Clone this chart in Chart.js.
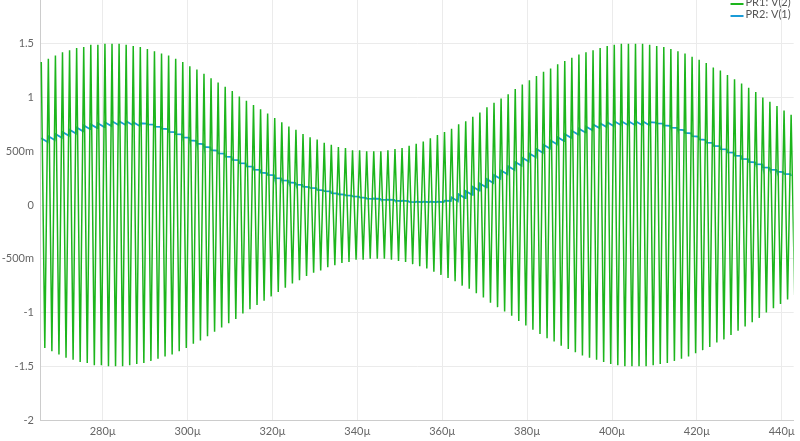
<!DOCTYPE html>
<html><head><meta charset="utf-8">
<script src="https://cdn.jsdelivr.net/npm/chart.js@4.4.1/dist/chart.umd.min.js"></script>
<style>html,body{margin:0;padding:0;overflow:hidden;background:#fff}#w{position:absolute;left:-12px;top:-30px;width:812px;height:490px}</style>
</head><body><div id="w"><canvas id="c"></canvas></div>
<script>
// carrier start time and period (µs)
const carrierStart = 265.5;
const carrierPeriod = 1.667;
// PR1: V(2) envelope peak per carrier cycle
const envelopePeaks = [1.33,1.36,1.39,1.42,1.44,1.46,1.47,1.49,1.49,1.50,1.50,1.50,1.49,1.48,1.47,1.45,1.43,1.41,1.39,1.36,
1.33,1.29,1.26,1.22,1.18,1.14,1.10,1.06,1.01,0.97,0.93,0.89,0.85,0.81,0.77,0.73,0.70,0.66,0.63,0.61,
0.58,0.56,0.54,0.53,0.51,0.51,0.50,0.50,0.50,0.51,0.52,0.53,0.55,0.57,0.59,0.62,0.65,0.68,0.71,0.75,
0.78,0.82,0.86,0.91,0.95,0.99,1.03,1.08,1.12,1.16,1.20,1.24,1.27,1.31,1.34,1.37,1.40,1.42,1.44,1.46,
1.48,1.49,1.50,1.50,1.50,1.50,1.49,1.48,1.47,1.45,1.43,1.41,1.38,1.35,1.32,1.28,1.25,1.21,1.17,1.13,
1.09,1.05,1.00,0.96,0.92,0.88,0.84];
// PR2: V(1) detector output per carrier cycle
const detectorValues = [0.62,0.64,0.66,0.68,0.70,0.72,0.74,0.75,0.76,0.77,0.78,0.78,0.78,0.77,0.76,0.75,0.73,0.71,0.68,0.66,
0.63,0.60,0.57,0.54,0.51,0.48,0.45,0.42,0.39,0.36,0.33,0.30,0.28,0.25,0.23,0.21,0.19,0.17,0.16,0.14,
0.13,0.11,0.10,0.09,0.08,0.07,0.06,0.06,0.05,0.05,0.04,0.04,0.03,0.03,0.03,0.03,0.03,0.04,0.07,0.10,
0.13,0.17,0.20,0.24,0.28,0.32,0.36,0.40,0.44,0.48,0.52,0.56,0.60,0.63,0.66,0.69,0.71,0.73,0.75,0.76,
0.77,0.78,0.78,0.78,0.78,0.78,0.77,0.76,0.74,0.72,0.70,0.67,0.64,0.61,0.58,0.55,0.52,0.49,0.46,0.43,
0.40,0.38,0.35,0.33,0.31,0.29,0.27];
const xTicks = [280,300,320,340,360,380,400,420,440];
const yTickLabels = {"-2":"-2","-1.5":"-1.5","-1":"-1","-0.5":"-500m","0":"0","0.5":"500m","1":"1","1.5":"1.5","2":"2"};

const green=[], blue=[];
envelopePeaks.forEach((v,k)=>{
  const t=carrierStart+carrierPeriod*k;
  green.push({x:t,y:v});
  green.push({x:t+carrierPeriod/2,y:-v});
});
detectorValues.forEach((v,k)=>{
  const t=carrierStart+carrierPeriod*k;
  blue.push({x:t,y:v});
  if(k<envelopePeaks.length-1) blue.push({x:t+carrierPeriod*0.9,y:v-((v>0.05&&(k<14||(k>57&&k<86)))?0.035:0.003)});
});

const legendPlugin={id:'lg',afterDraw(ch){
  const c=ch.ctx,a=ch.chartArea;c.save();c.font='11px Lato';c.textBaseline='middle';
  ch.data.datasets.forEach((d,i)=>{const y=a.top+12+i*12;const tw=c.measureText(d.label).width;
    const x=a.right-tw-3;c.fillStyle='#555';c.fillText(d.label,x,y);
    c.strokeStyle=d.borderColor;c.lineWidth=2;c.beginPath();c.moveTo(x-15,y+2);c.lineTo(x-2,y+2);c.stroke();});
  c.restore();}};

new Chart(document.getElementById('c'),{type:'line',
data:{datasets:[
 {label:'PR1: V(2)',data:green,borderColor:'#1cb51c',borderWidth:1.5,pointRadius:0,tension:0},
 {label:'PR2: V(1)',data:blue,borderColor:'#1a9bd7',borderWidth:1.8,pointRadius:0,tension:0}]},
options:{animation:false,responsive:true,maintainAspectRatio:false,
 layout:{padding:{top:20,right:5,left:0,bottom:0}},
 plugins:{legend:{display:false},tooltip:{enabled:false}},
 scales:{
  x:{type:'linear',min:265.2,max:442.8,
     afterBuildTicks(s){s.ticks=xTicks.map(v=>({value:v}));},
     afterFit(s){s.height=40;},
     ticks:{callback:v=>v+'µ',color:'#666',font:{family:'Lato',size:11},maxRotation:0,padding:5},
     grid:{color:'#ebebeb',drawTicks:false},border:{color:'#ccc'},
     title:{display:true,text:'Time (s)',color:'#666',font:{family:'Lato',size:11},padding:{top:1}}},
  y:{min:-2,max:2,
     afterBuildTicks(s){s.ticks=Object.keys(yTickLabels).map(Number).map(v=>({value:v}));},
     afterFit(s){s.width=52;},
     ticks:{callback:v=>yTickLabels[String(v)],color:'#666',font:{family:'Lato',size:11},padding:6},
     grid:{color:'#ebebeb',drawTicks:false},border:{color:'#ccc'},
     title:{display:true,text:'Voltage (V)',color:'#666',font:{family:'Lato',size:11},padding:0}}
 }},plugins:[legendPlugin]});
</script></body></html>
